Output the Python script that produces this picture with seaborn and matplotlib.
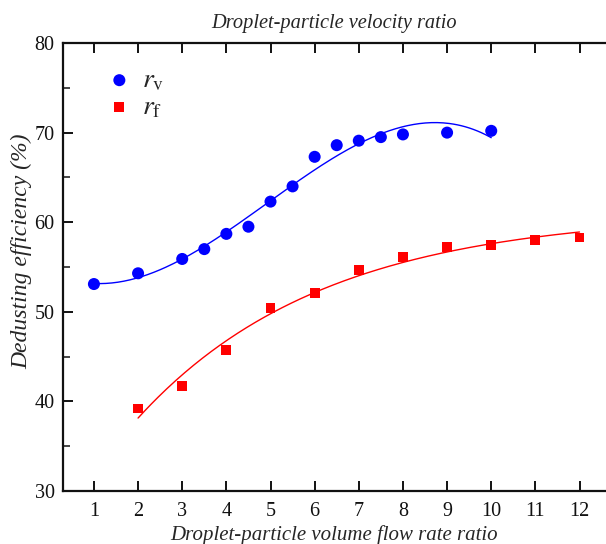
import numpy as np
import pandas as pd
import matplotlib
matplotlib.use("Agg")
import matplotlib.pyplot as plt
import seaborn as sns

# Dedusting efficiency versus droplet-particle ratios
rv_x = [1, 2, 3, 3.5, 4, 4.5, 5, 5.5, 6, 6.5, 7, 7.5, 8, 9, 10]
rv_y = [53.1, 54.3, 55.9, 57.0, 58.7, 59.5, 62.3, 64.0, 67.3, 68.6, 69.1, 69.5, 69.8, 70.0, 70.2]
rf_x = [2, 3, 4, 5, 6, 7, 8, 9, 10, 11, 12]
rf_y = [39.2, 41.7, 45.7, 50.4, 52.1, 54.7, 56.1, 57.2, 57.5, 58.0, 58.3]
x_ticks = [1, 2, 3, 4, 5, 6, 7, 8, 9, 10, 11, 12]
y_ticks = [30, 40, 50, 60, 70, 80]

sns.set_theme(style="ticks")
plt.rcParams["font.family"] = ["Liberation Serif", "DejaVu Serif"]
plt.rcParams["mathtext.fontset"] = "stix"

fig = plt.figure(figsize=(6.06, 5.44), dpi=100)
ax = fig.add_axes([0.104, 0.0974, 0.896, 0.8235])


def fit_exp_rise(x, y):
    """Least-squares fit of y = a - b*exp(-k*x), scanning k."""
    x = np.asarray(x, float)
    y = np.asarray(y, float)
    best = None
    for k in np.linspace(0.02, 1.5, 1500):
        A = np.column_stack([np.ones_like(x), -np.exp(-k * x)])
        coef, *_ = np.linalg.lstsq(A, y, rcond=None)
        res = np.sum((A @ coef - y) ** 2)
        if best is None or res < best[0]:
            best = (res, coef[0], coef[1], k)
    _, a, b, k = best
    return lambda t: a - b * np.exp(-k * t)


# Trend lines through each series
cv = np.polyfit(rv_x, rv_y, 3)
xv = np.linspace(min(rv_x), max(rv_x), 200)
f_rf = fit_exp_rise(rf_x, rf_y)
xf = np.linspace(min(rf_x), max(rf_x), 200)
sns.lineplot(x=xv, y=np.polyval(cv, xv), ax=ax, color="#0000ff", lw=1.0)
sns.lineplot(x=xf, y=f_rf(xf), ax=ax, color="#ff0000", lw=1.0)

sns.scatterplot(x=rv_x, y=rv_y, ax=ax, marker="o", s=75, color="#0000ff",
                edgecolor="none", label=r"$r_{\mathrm{v}}$", zorder=3)
sns.scatterplot(x=rf_x, y=rf_y, ax=ax, marker="s", s=50, color="#ff0000",
                edgecolor="none", label=r"$r_{\mathrm{f}}$", zorder=3)

ax.set_xlim(0.3, 12.6)
ax.set_ylim(30, 80)
ax.set_xticks(x_ticks)
ax.set_xticklabels([str(t) for t in x_ticks])
ax.set_yticks(y_ticks)
ax.set_yticks(np.arange(35, 80, 10), minor=True)

for s in ["left", "bottom", "top"]:
    ax.spines[s].set_linewidth(1.6)
    ax.spines[s].set_color("#111111")
ax.spines["right"].set_visible(False)

ax.tick_params(axis="both", which="major", direction="in", length=7, width=1.4,
               labelsize=14.5, colors="#111111", pad=8)
ax.tick_params(axis="x", which="major", top=True, labeltop=False)
ax.tick_params(axis="y", which="minor", direction="in", length=5, width=1.2,
               left=True)
ax.tick_params(axis="y", which="major", pad=6)

ax.set_xlabel("Droplet-particle volume flow rate ratio", fontsize=15,
              style="italic", labelpad=3)
ax.set_ylabel("Dedusting efficiency (%)", fontsize=17, style="italic")
ax.yaxis.set_label_coords(-0.057, 0.535)
ax.set_title("Droplet-particle velocity ratio", fontsize=14.7, style="italic", pad=11)

leg = ax.legend(loc="upper left", bbox_to_anchor=(0.027, 1.0), frameon=False,
                fontsize=20, handletextpad=0.2, labelspacing=0.05,
                handlelength=1.2)

fig.savefig("out.png", dpi=100)
